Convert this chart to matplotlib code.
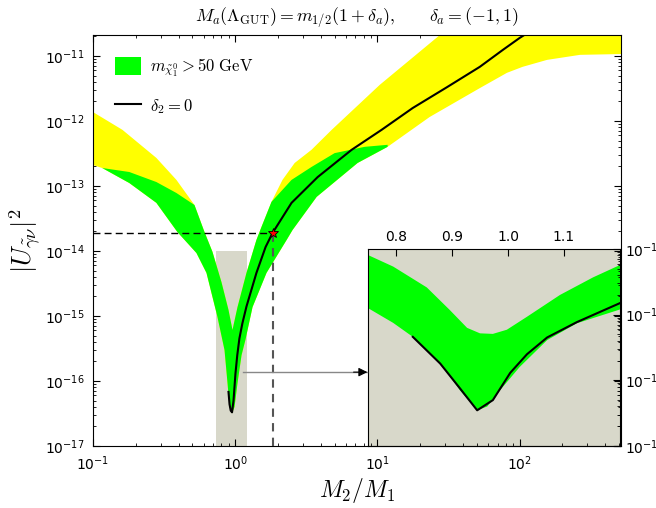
"""Neutralino-neutrino mixing |U|^2 versus the gaugino mass ratio M2/M1,
with a zoomed inset around M2/M1 ~ 1."""
import matplotlib
matplotlib.use("Agg")
import matplotlib.pyplot as plt
from matplotlib.lines import Line2D
from matplotlib.patches import Patch

plt.rcParams["mathtext.fontset"] = "cm"

YELLOW = "#ffff00"
GREEN = "#00ff00"
SHADE = "#d8d8ca"

# --- main panel: band for delta_a in (-1, 1) ------------------------------
# left branch (M2/M1 < 1): upper-right edge and lower-left edge
left_top_x = [0.1, 0.161, 0.279, 0.386, 0.517, 0.608, 0.692, 0.801, 0.897, 0.957]
left_top_y = [1.37e-12, 7.3e-13, 2.7e-13, 1.24e-13, 5.1e-14, 1.96e-14, 9.7e-15,
              3.3e-15, 1.24e-15, 6.1e-16]
left_bot_x = [0.1, 0.116, 0.180, 0.279, 0.392, 0.534, 0.628, 0.750, 0.841, 0.883,
              0.912, 0.950]
left_bot_y = [2.1e-13, 1.89e-13, 1.11e-13, 5.5e-14, 1.96e-14, 9.3e-15, 4.6e-15,
              9.7e-16, 3.0e-16, 9.3e-17, 4.0e-17, 3.2e-17]
# where the m_chi > 50 GeV region stops on the left branch
left_green_x = [0.116, 0.180, 0.279, 0.386, 0.517]
left_green_y = [1.89e-13, 1.64e-13, 1.15e-13, 7.8e-14, 5.1e-14]

# right branch (M2/M1 > 1): upper-left edge and lower-right edge
right_top_x = [0.957, 1.038, 1.20, 1.41, 1.53, 1.80, 2.15, 2.62, 3.44, 4.77, 10.4,
               27.5, 44.7, 520]
right_top_y = [6.1e-16, 1.37e-15, 4.6e-15, 1.48e-14, 2.34e-14, 5.7e-14, 1.24e-13,
               2.26e-13, 3.6e-13, 7.3e-13, 3.6e-12, 2.1e-11, 5.5e-11, 6e-11]
right_bot_x = [0.950, 0.989, 1.038, 1.108, 1.18, 1.324, 1.66, 2.30, 2.53, 3.74,
               7.26, 11.8, 23.3, 52.5, 81.5, 105, 156, 266, 520]
right_bot_y = [3.2e-17, 4.0e-17, 9.3e-17, 2.5e-16, 4.3e-16, 1.37e-15, 4.6e-15,
               1.48e-14, 2.1e-14, 6.8e-14, 2.26e-13, 4.0e-13, 1.15e-12, 3.2e-12,
               5.5e-12, 6.8e-12, 8.7e-12, 1.04e-11, 1.07e-11]
right_green_x = [1.80, 2.49, 3.44, 5.0, 8.14, 11.8]
right_green_y = [5.7e-14, 1.24e-13, 1.96e-13, 3.2e-13, 4.0e-13, 4.3e-13]

# delta_2 = 0 curve
curve_x = [0.897, 0.912, 0.930, 0.950, 0.973, 1.004, 1.034, 1.070, 1.123, 1.20,
           1.41, 1.635, 1.83, 2.49, 3.80, 6.59, 10.7, 17.7, 30.8, 52.5, 76.3,
           100, 126]
curve_y = [6.8e-17, 4.4e-17, 3.5e-17, 3.3e-17, 5.0e-17, 1.3e-16, 2.5e-16,
           4.5e-16, 7.7e-16, 1.4e-15, 4.6e-15, 1.15e-14, 1.89e-14, 5.5e-14,
           1.37e-13, 3.6e-13, 7.3e-13, 1.58e-12, 3.3e-12, 6.8e-12, 1.24e-11,
           1.89e-11, 2.6e-11]

# benchmark point
star_x, star_y = 1.83, 1.89e-14

# zoomed window
shade_x = [0.73, 1.22]
shade_top = 1e-14
arrow_y = 1.37e-16
arrow_x = [1.14, 8.5]

# --- inset --------------------------------------------------------------
ins_top_x = [0.75, 0.795, 0.855, 0.896, 0.927, 0.95, 0.973, 0.998, 1.034, 1.093,
             1.152, 1.2]
ins_top_y = [8.1e-15, 5.4e-15, 2.6e-15, 1.18e-15, 6.3e-16, 5.2e-16, 5.1e-16,
             5.9e-16, 9.3e-16, 2.0e-15, 3.7e-15, 5.7e-15]
ins_bot_x = [0.75, 0.795, 0.830, 0.884, 0.914, 0.945, 0.963, 0.986, 1.021, 1.070,
             1.123, 1.2]
ins_bot_y = [1.26e-15, 7.5e-16, 4.6e-16, 1.6e-16, 7.1e-17, 3.5e-17, 4.0e-17,
             7.1e-17, 1.6e-16, 4.1e-16, 7.4e-16, 1.2e-15]
ins_line_x = [0.830, 0.879, 0.914, 0.945, 0.973, 1.004, 1.034, 1.070, 1.123, 1.2]
ins_line_y = [4.6e-16, 1.8e-16, 7.6e-17, 3.5e-17, 5.0e-17, 1.3e-16, 2.5e-16,
              4.5e-16, 7.7e-16, 1.5e-15]
ins_xticks = [0.8, 0.9, 1.0, 1.1]


def _between(xs, ys, lo, hi):
    pts = [(x, y) for x, y in zip(xs, ys) if lo <= x <= hi]
    return [p[0] for p in pts], [p[1] for p in pts]


fig = plt.figure(figsize=(6.56, 5.08), dpi=100)
ax = fig.add_axes([0.1418, 0.1220, 0.8049, 0.8091], zorder=2)
ax.set_facecolor("none")
ax.set_xscale("log")
ax.set_yscale("log")

# shaded zoom window
ax.fill_between(shade_x, 1e-17, shade_top, color=SHADE, lw=0, zorder=1)

# whole band (yellow)
env_x = left_top_x + right_top_x[1:] + right_bot_x[::-1] + left_bot_x[::-1][1:]
env_y = left_top_y + right_top_y[1:] + right_bot_y[::-1] + left_bot_y[::-1][1:]
ax.fill(env_x, env_y, color=YELLOW, lw=0, zorder=2)

# m_chi > 50 GeV part (green)
gx, gy = list(left_green_x), list(left_green_y)
x, y = _between(left_top_x, left_top_y, 0.52, 1.0)
gx += x; gy += y
x, y = _between(right_top_x, right_top_y, 0.96, 1.79)
gx += x; gy += y
gx += right_green_x; gy += right_green_y
x, y = _between(right_bot_x, right_bot_y, 0.9, 11.8)
gx += x[::-1]; gy += y[::-1]
x, y = _between(left_bot_x, left_bot_y, 0.117, 0.949)
gx += x[::-1]; gy += y[::-1]
ax.fill(gx, gy, color=GREEN, lw=0, zorder=3)

ax.plot([0.1, star_x], [star_y, star_y], color="k", ls="--", lw=1.0,
        dashes=(5, 3), zorder=4)
ax.plot([star_x, star_x], [1e-17, star_y], color="#555555", ls="--", lw=1.5,
        dashes=(4, 3), zorder=4)
ax.plot(curve_x, curve_y, color="k", lw=1.5, zorder=5)
ax.plot(star_x, star_y, marker="*", color="red", mec="k", mew=0.6, ms=7, zorder=6)

ax.plot(arrow_x, [arrow_y, arrow_y], color="#888888", lw=1.0, zorder=4)
ax.annotate("", xy=(arrow_x[1], arrow_y), xytext=(arrow_x[1] * 0.8, arrow_y),
            arrowprops=dict(arrowstyle="-|>", fc="k", ec="k", lw=0.8,
                            mutation_scale=13, shrinkA=0, shrinkB=0),
            zorder=6)

ax.set_xlim(0.1, 517)
ax.set_ylim(1e-17, 2.1e-11)
ax.tick_params(which="both", direction="in", top=True, right=True, labelsize=10)
ax.tick_params(which="major", length=5, pad=6)
ax.tick_params(which="minor", length=2.5)
ax.set_xlabel(r"$M_2/M_1$", fontsize=17, labelpad=2)
ax.set_ylabel(r"$|U_{\tilde{\gamma}\nu}|^2$", fontsize=19, labelpad=2)

handles = [Patch(fc=GREEN, ec="none"), Line2D([], [], color="k", lw=1.5)]
labels = [r"$m_{\tilde{\chi}^0_1} > 50\ \mathrm{GeV}$", r"$\delta_2 = 0$"]
ax.legend(handles, labels, loc="upper left", frameon=False, fontsize=12,
          handlelength=1.6, handleheight=1.3, labelspacing=1.05,
          handletextpad=0.5, borderaxespad=0.9, borderpad=0.4)

fig.text(0.544, 0.967,
         r"$M_a(\Lambda_{\mathrm{GUT}}) = m_{1/2}(1+\delta_a), \qquad \delta_a = (-1, 1)$",
         ha="center", va="center", fontsize=12.8)

# inset
ins = fig.add_axes([0.561, 0.1220, 0.384, 0.3878], zorder=1)
ins.set_facecolor(SHADE)
ins.set_yscale("log")
ins.fill(ins_top_x + ins_bot_x[::-1], ins_top_y + ins_bot_y[::-1],
         color=GREEN, lw=0)
ins.plot(ins_line_x, ins_line_y, color="k", lw=1.5)
ins.set_xlim(0.75, 1.2)
ins.set_ylim(1e-17, 1e-14)
ins.set_xticks(ins_xticks)
ins.xaxis.tick_top()
ins.yaxis.tick_right()
ins.tick_params(which="both", direction="in", labelsize=10, bottom=False)
ins.tick_params(which="major", length=5)
ins.tick_params(which="minor", length=2.5)

fig.savefig("out.png", dpi=100)
